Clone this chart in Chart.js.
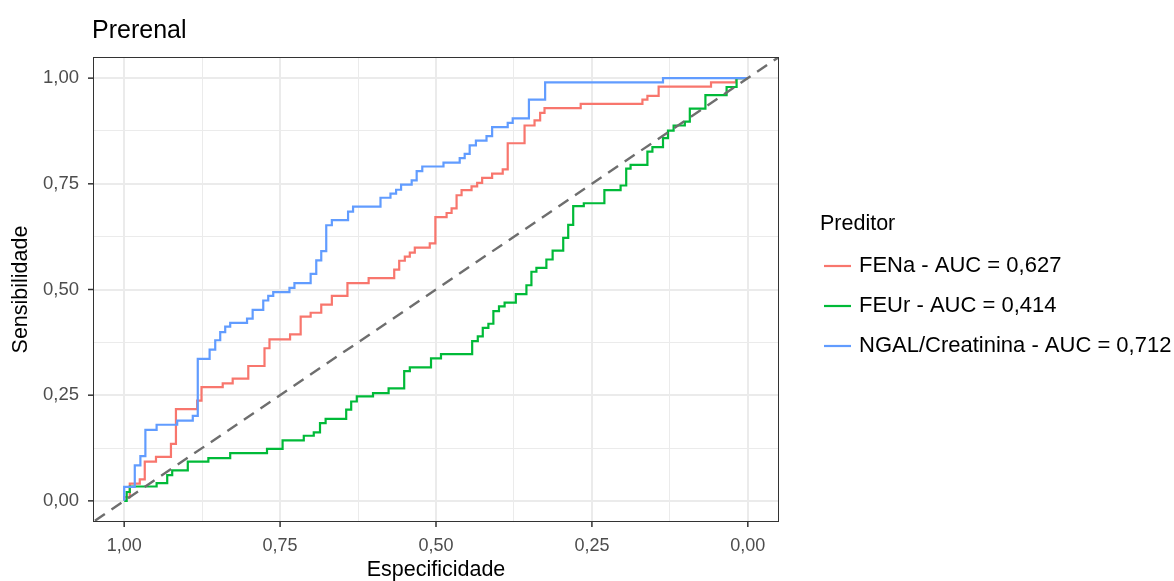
<!DOCTYPE html>
<html>
<head>
<meta charset="utf-8">
<script src="https://cdn.jsdelivr.net/npm/chart.js@4.4.1/dist/chart.umd.min.js"></script>
<style>
  html, body { margin: 0; padding: 0; background: #ffffff; }
  #wrap { width: 1174px; height: 581px; }
</style>
</head>
<body>
<div id="wrap"><canvas id="roc" width="1174" height="581"></canvas></div>
<script>
// ROC curves: each array pair lists the end of every horizontal run
// (specificity, sensitivity); the line rises vertically before each run.
const fenaSpec = [1, 0.991, 0.975, 0.967, 0.949, 0.925, 0.917, 0.883, 0.876, 0.842, 0.826, 0.801, 0.775, 0.767,
  0.734, 0.717, 0.701, 0.684, 0.667, 0.642, 0.608, 0.567, 0.559, 0.550, 0.542, 0.534, 0.510, 0.501, 0.483, 0.475,
  0.467, 0.459, 0.443, 0.434, 0.426, 0.410, 0.393, 0.385, 0.358, 0.342, 0.333, 0.326, 0.268, 0.169, 0.161, 0.143,
  0.059, 0.019, 0];
const fenaSens = [0, 0.009, 0.041, 0.051, 0.093, 0.104, 0.135, 0.217, 0.237, 0.269, 0.278, 0.289, 0.319, 0.361,
  0.382, 0.394, 0.436, 0.445, 0.464, 0.485, 0.515, 0.527, 0.547, 0.568, 0.578, 0.587, 0.599, 0.609, 0.671, 0.681,
  0.692, 0.723, 0.735, 0.744, 0.752, 0.764, 0.774, 0.784, 0.846, 0.888, 0.900, 0.918, 0.929, 0.939, 0.949, 0.958,
  0.980, 0.990, 1];

const feurSpec = [1, 0.996, 0.991, 0.948, 0.931, 0.923, 0.898, 0.865, 0.830, 0.771, 0.746, 0.712, 0.696, 0.686,
  0.677, 0.644, 0.636, 0.627, 0.601, 0.576, 0.551, 0.542, 0.508, 0.492, 0.442, 0.433, 0.425, 0.416, 0.408, 0.399,
  0.390, 0.372, 0.355, 0.347, 0.339, 0.323, 0.313, 0.296, 0.288, 0.280, 0.263, 0.230, 0.204, 0.195, 0.188, 0.161,
  0.153, 0.136, 0.128, 0.119, 0.101, 0.093, 0.068, 0.034, 0.018, 0];
const feurSens = [0, 0, 0.021, 0.034, 0.042, 0.061, 0.072, 0.093, 0.101, 0.113, 0.123, 0.143, 0.154, 0.162,
  0.184, 0.194, 0.216, 0.235, 0.247, 0.255, 0.266, 0.307, 0.316, 0.337, 0.347, 0.378, 0.389, 0.409, 0.419, 0.449,
  0.460, 0.469, 0.489, 0.510, 0.542, 0.551, 0.571, 0.592, 0.622, 0.653, 0.697, 0.704, 0.735, 0.746, 0.786, 0.795,
  0.826, 0.837, 0.858, 0.876, 0.888, 0.897, 0.928, 0.960, 0.979, 1];

const ngalSpec = [1, 0.983, 0.974, 0.966, 0.948, 0.915, 0.890, 0.882, 0.863, 0.854, 0.846, 0.838, 0.830, 0.803,
  0.794, 0.777, 0.769, 0.761, 0.735, 0.727, 0.701, 0.692, 0.684, 0.676, 0.667, 0.641, 0.633, 0.589, 0.573, 0.564,
  0.556, 0.539, 0.531, 0.522, 0.488, 0.462, 0.454, 0.446, 0.436, 0.419, 0.410, 0.385, 0.377, 0.351, 0.325, 0.136, 0];
const ngalSens = [0, 0.033, 0.084, 0.106, 0.168, 0.180, 0.190, 0.201, 0.336, 0.358, 0.380, 0.399, 0.412, 0.421,
  0.431, 0.452, 0.474, 0.485, 0.494, 0.504, 0.515, 0.537, 0.569, 0.591, 0.652, 0.664, 0.684, 0.696, 0.717, 0.727,
  0.736, 0.748, 0.758, 0.780, 0.791, 0.800, 0.811, 0.821, 0.841, 0.852, 0.863, 0.884, 0.894, 0.905, 0.949, 0.990, 1];

// Chance line (sensitivity = 1 - specificity), extended past the panel and clipped
const chanceSpec = [1.1, -0.1];
const chanceSens = [-0.1, 1.1];

const seriesNames = ['FENa - AUC = 0,627', 'FEUr - AUC = 0,414', 'NGAL/Creatinina - AUC = 0,712'];
const seriesColors = ['#F8766D', '#00BA38', '#619CFF'];
const majorTicks = [0, 0.25, 0.5, 0.75, 1];
const minorTicks = [0.125, 0.375, 0.625, 0.875];

const FONT = '"Liberation Sans", Arial, Helvetica, sans-serif';
const zip = (xs, ys) => xs.map((x, i) => ({ x: x, y: ys[i] }));
const fmt = v => v.toFixed(2).replace('.', ',');
const isMajor = v => majorTicks.some(m => Math.abs(m - v) < 1e-9);

const allTicks = majorTicks.concat(minorTicks).sort((a, b) => a - b);

function curve(label, spec, sens, color, order) {
  return {
    label: label, data: zip(spec, sens), borderColor: color, borderWidth: 2.2,
    stepped: 'after', pointRadius: 0, fill: false, order: order, tension: 0
  };
}

const gridOpts = {
  drawTicks: false,
  color: '#EBEBEB',
  lineWidth: ctx => (ctx.tick && isMajor(ctx.tick.value)) ? 2 : 1
};

// Panel frame, tick marks, titles and legend
const decorations = {
  id: 'decorations',
  afterDraw(chart) {
    const c = chart.ctx;
    const a = chart.chartArea;
    const xs = chart.scales.x, ys = chart.scales.y;
    c.save();
    c.strokeStyle = '#333333';
    c.lineWidth = 1;
    c.strokeRect(Math.round(a.left) + 0.5, Math.round(a.top) + 0.5,
      Math.round(a.right - a.left) - 1, Math.round(a.bottom - a.top) - 1);
    c.lineWidth = 1.5;
    majorTicks.forEach(v => {
      const px = xs.getPixelForValue(v);
      c.beginPath(); c.moveTo(px, a.bottom); c.lineTo(px, a.bottom + 5); c.stroke();
      const py = ys.getPixelForValue(v);
      c.beginPath(); c.moveTo(a.left, py); c.lineTo(a.left - 5, py); c.stroke();
    });

    c.fillStyle = '#000000';
    c.textBaseline = 'middle';
    c.textAlign = 'left';
    c.font = '25px ' + FONT;
    c.fillText('Prerenal', 92, 31);

    c.font = '21.5px ' + FONT;
    c.textAlign = 'center';
    c.fillText('Especificidade', (a.left + a.right) / 2, 570);
    c.save();
    c.translate(21, (a.top + a.bottom) / 2);
    c.rotate(-Math.PI / 2);
    c.fillText('Sensibilidade', 0, 0);
    c.restore();

    c.textAlign = 'left';
    c.fillText('Preditor', 820, 224);
    c.font = '22px ' + FONT;
    seriesNames.forEach((name, i) => {
      const y = 266 + i * 40;
      c.strokeStyle = seriesColors[i];
      c.lineWidth = 2.2;
      c.beginPath(); c.moveTo(824, y); c.lineTo(851, y); c.stroke();
      c.fillStyle = '#000000';
      c.fillText(name, 859, y);
    });
    c.restore();
  }
};

new Chart(document.getElementById('roc'), {
  type: 'line',
  data: {
    datasets: [
      {
        label: 'chance', data: zip(chanceSpec, chanceSens), borderColor: '#6E6E6E', borderWidth: 2.4,
        borderDash: [12, 8], pointRadius: 0, fill: false, order: 0
      },
      curve(seriesNames[2], ngalSpec, ngalSens, seriesColors[2], 1),
      curve(seriesNames[1], feurSpec, feurSens, seriesColors[1], 2),
      curve(seriesNames[0], fenaSpec, fenaSens, seriesColors[0], 3)
    ]
  },
  options: {
    responsive: false,
    animation: false,
    events: [],
    layout: { padding: { top: 57, right: 395, left: 0, bottom: 0 } },
    plugins: { legend: { display: false }, title: { display: false }, tooltip: { enabled: false } },
    scales: {
      x: {
        type: 'linear', reverse: true, min: -0.05, max: 1.05,
        afterBuildTicks: s => { s.ticks = allTicks.map(v => ({ value: v })); },
        afterFit: s => { s.height = 59; },
        grid: gridOpts,
        border: { display: false },
        ticks: {
          autoSkip: false, maxRotation: 0, padding: 13,
          color: '#4D4D4D', font: { family: FONT, size: 18 },
          callback: v => isMajor(v) ? fmt(v) : ''
        }
      },
      y: {
        type: 'linear', min: -0.05, max: 1.05,
        afterBuildTicks: s => { s.ticks = allTicks.map(v => ({ value: v })); },
        afterFit: s => { s.width = 93; },
        grid: gridOpts,
        border: { display: false },
        ticks: {
          autoSkip: false, padding: 14,
          color: '#4D4D4D', font: { family: FONT, size: 18.5 },
          callback: v => isMajor(v) ? fmt(v) : ''
        }
      }
    }
  },
  plugins: [decorations]
});
</script>
</body>
</html>
